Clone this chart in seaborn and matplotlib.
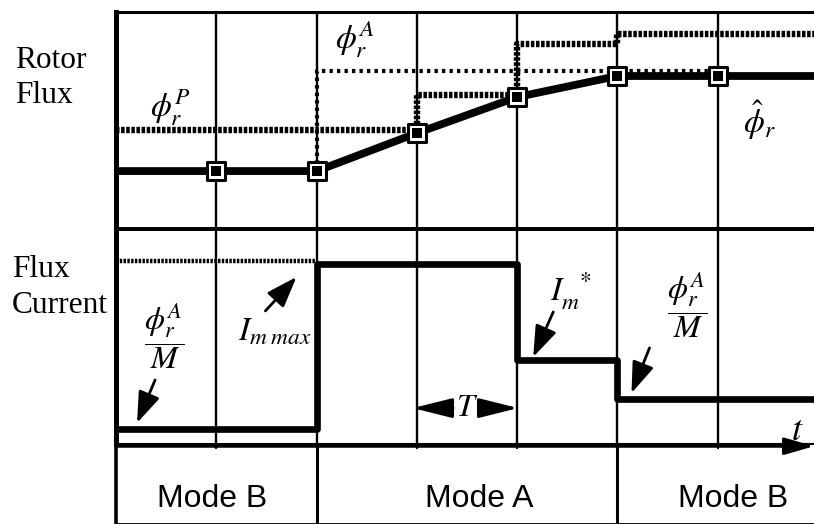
import matplotlib
matplotlib.use("Agg")
import matplotlib.pyplot as plt
import seaborn as sns

# ---- timing: sample instants in units of the control period T ----
K_END = 6.96
grid_k = [1, 2, 3, 4, 5, 6]

# ---- rotor flux panel (arbitrary flux units, 0..10) ----
k_est = [0, 1, 2, 3, 4, 5, 6, 6.96]
phi_est = [2.67, 2.67, 2.67, 4.42, 6.08, 7.05, 7.05, 7.05]   # estimated flux
k_pred = [0, 3, 4, 5, 6.96]
phi_pred = [4.56, 6.18, 8.53, 8.99, 8.99]                    # predicted flux (steps)
k_act = [2, 2, 6]
phi_act = [2.67, 7.30, 7.30]                                 # actual / target flux

# ---- flux current panel (arbitrary current units, 0..10) ----
k_cur = [0, 2, 4, 5, 6.96]
i_cur = [0.72, 8.35, 3.93, 2.09, 2.09]                       # commanded flux current
k_imax = [0, 2]
i_imax = [8.5, 8.5]                                          # current limit

# ---- operating modes ----
mode_edges = [2, 5]
mode_names = ["Mode B", "Mode A", "Mode B"]
mode_centers = [0.96, 3.62, 6.15]

sns.set_style("white")
plt.rcParams["mathtext.fontset"] = "stix"
plt.rcParams["font.family"] = ["Liberation Serif", "DejaVu Serif"]
plt.rcParams["text.color"] = "black"

W, H = 814, 524
fig = plt.figure(figsize=(W / 100, H / 100), dpi=100)
left, width = 116 / W, (W - 116) / W
ax_top = fig.add_axes([left, 1 - 229 / H, width, (229 - 12) / H])
ax_bot = fig.add_axes([left, 1 - 444 / H, width, (444 - 229) / H])
ax_mode = fig.add_axes([left, 0, width, (524 - 447) / H])

for ax in (ax_top, ax_bot, ax_mode):
    ax.set_xlim(0, K_END)
    ax.set_ylim(0, 10)
    ax.set_xticks([])
    ax.set_yticks([])
    ax.set_xlabel("")
    ax.set_ylabel("")
    ax.patch.set_alpha(0)
    ax.spines["right"].set_visible(False)
    for s in ax.spines.values():
        s.set_color("black")

ax_top.spines["left"].set_linewidth(3.6)
ax_top.spines["top"].set_linewidth(2.2)
ax_top.spines["bottom"].set_linewidth(2.8)
ax_bot.spines["left"].set_linewidth(3.6)
ax_bot.spines["top"].set_linewidth(2.8)
ax_bot.spines["bottom"].set_linewidth(1.5)
ax_mode.spines["left"].set_linewidth(2.6)
ax_mode.spines["top"].set_visible(False)
ax_mode.spines["bottom"].set_linewidth(2.0)

# period grid
for k in grid_k:
    ax_top.axvline(k, color="black", lw=1.7, zorder=1)
    ax_bot.axvline(k, ymin=-0.02, color="black", lw=1.7, zorder=1, clip_on=False)
for k in mode_edges:
    ax_mode.axvline(k, color="black", lw=2.2, zorder=1)

# ---- rotor flux traces ----
sns.lineplot(x=k_pred, y=phi_pred, ax=ax_top, color="black", linewidth=4.6,
             linestyle=(0, (0.55, 0.25)), drawstyle="steps-post",
             estimator=None, sort=False, zorder=2)
sns.lineplot(x=k_act, y=phi_act, ax=ax_top, color="black", linewidth=3.0,
             linestyle=(0, (0.8, 1.0)), estimator=None, sort=False, zorder=2)
sns.lineplot(x=k_est, y=phi_est, ax=ax_top, color="black", linewidth=5.6,
             estimator=None, sort=False, zorder=3)
sns.scatterplot(x=k_est[1:7], y=phi_est[1:7], ax=ax_top, marker="s", s=150,
                color="white", edgecolor="black", linewidth=2.2, zorder=5)
sns.scatterplot(x=k_est[1:7], y=phi_est[1:7], ax=ax_top, marker="s", s=56,
                color="black", linewidth=0, zorder=6)

# ---- flux current traces ----
sns.lineplot(x=k_imax, y=i_imax, ax=ax_bot, color="black", linewidth=3.2,
             linestyle=(0, (0.55, 0.3)), estimator=None, sort=False, zorder=2)
sns.lineplot(x=k_cur, y=i_cur, ax=ax_bot, color="black", linewidth=4.8,
             drawstyle="steps-post", estimator=None, sort=False, zorder=3)

MFS = 24
ax_top.text(0.54, 5.6, r"$\phi_r^P$", fontsize=MFS, ha="center", va="center")
ax_top.text(2.38, 8.75, r"$\phi_r^A$", fontsize=MFS, ha="center", va="center")
ax_top.text(6.42, 5.0, r"$\hat{\phi}_r$", fontsize=MFS, ha="center", va="center")

ax_bot.text(0.48, 5.0, r"$\dfrac{\phi_r^A}{M}$", fontsize=MFS - 1, ha="center", va="center")
ax_bot.text(1.22, 4.8, r"$I_{m\;max}$", fontsize=MFS, ha="left", va="baseline")
ax_bot.text(4.33, 6.7, r"$I_m^{\ \ *}$", fontsize=MFS, ha="left", va="baseline")
ax_bot.text(5.70, 6.47, r"$\dfrac{\phi_r^A}{M}$", fontsize=MFS - 1, ha="center", va="center")
ax_bot.text(3.5, 1.67, r"$T$", fontsize=MFS - 1, ha="center", va="center")
ax_bot.text(6.79, 0.6, r"$t$", fontsize=MFS + 2, ha="center", va="center")


def pointer(ax, tail, tip, hl=0.95, hw=0.34, lw=2.0):
    ax.annotate("", xy=tip, xytext=tail,
                arrowprops=dict(arrowstyle=f"-|>,head_length={hl},head_width={hw}",
                                color="black", lw=lw, shrinkA=0, shrinkB=0,
                                mutation_scale=20),
                annotation_clip=False)


pointer(ax_bot, (0.39, 2.98), (0.21, 0.98))
pointer(ax_bot, (1.49, 6.19), (1.80, 7.77))
pointer(ax_bot, (4.36, 6.14), (4.16, 4.05))
pointer(ax_bot, (5.32, 4.47), (5.14, 2.37))
pointer(ax_bot, (3.36, 1.67), (2.96, 1.67), hl=1.2, hw=0.3, lw=2.2)
pointer(ax_bot, (3.65, 1.67), (4.01, 1.67), hl=1.2, hw=0.3, lw=2.2)

# time axis arrow
pointer(ax_mode, (0, 10.1), (K_END, 10.1), hl=0.9, hw=0.26, lw=2.2)

fig.text(15 / W, 1 - 68 / H, "Rotor", fontsize=22.6, va="baseline")
fig.text(15 / W, 1 - 103 / H, "Flux", fontsize=22.6, va="baseline")
fig.text(12 / W, 1 - 277 / H, "Flux", fontsize=22.6, va="baseline")
fig.text(12 / W, 1 - 313 / H, "Current", fontsize=22.6, va="baseline")

for c, name in zip(mode_centers, mode_names):
    ax_mode.text(c, 2.2, name, fontsize=23, ha="center", va="baseline",
                 family=["Liberation Sans", "DejaVu Sans"])

fig.savefig("out.png", dpi=100)
